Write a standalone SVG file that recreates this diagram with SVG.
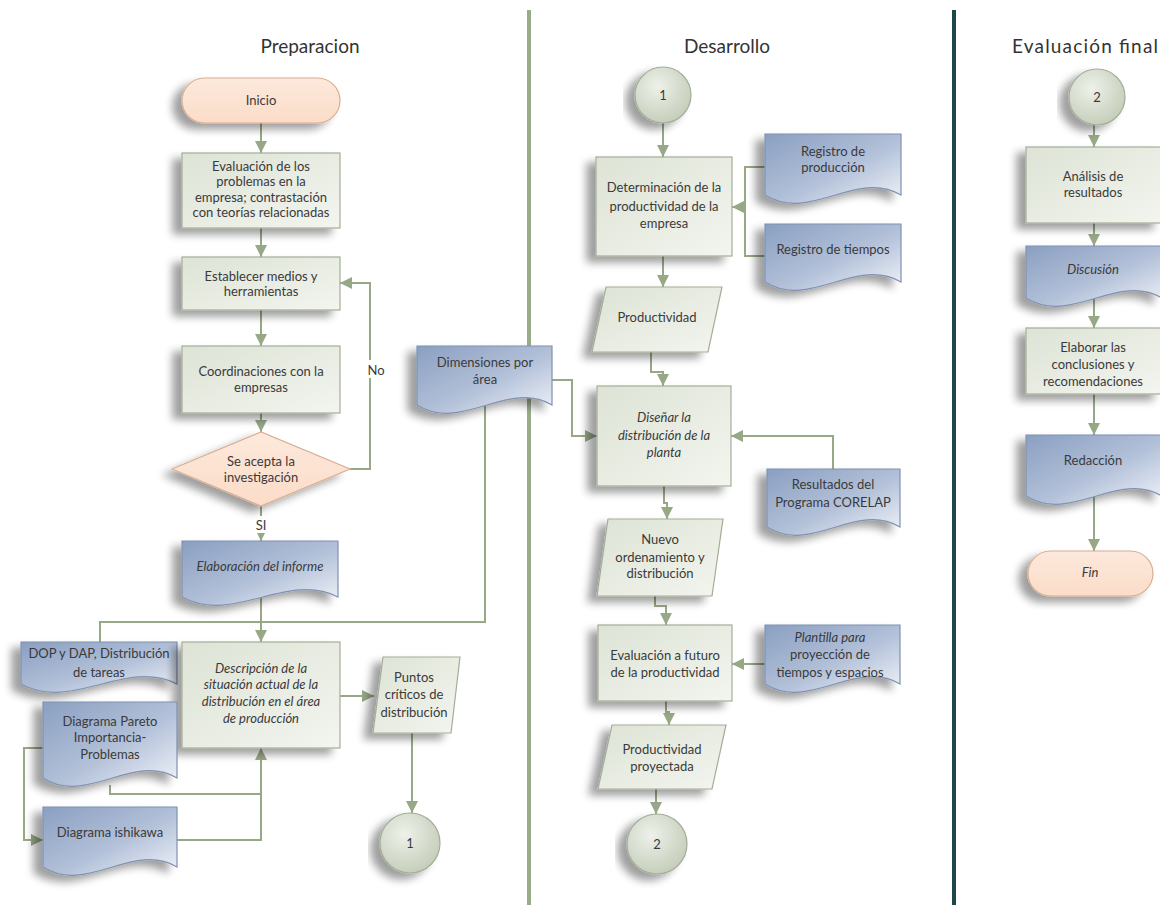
<svg xmlns="http://www.w3.org/2000/svg" width="1160" height="905" viewBox="0 0 1160 905">
<defs>
  <linearGradient id="gProc" x1="0" y1="0" x2="1" y2="1">
    <stop offset="0" stop-color="#dde3d5"/>
    <stop offset="1" stop-color="#f3f5ef"/>
  </linearGradient>
  <linearGradient id="gDoc" x1="0" y1="0" x2="1" y2="1">
    <stop offset="0" stop-color="#8a9fc1"/>
    <stop offset="0.55" stop-color="#b3c1d9"/>
    <stop offset="1" stop-color="#f1f4f9"/>
  </linearGradient>
  <linearGradient id="gTerm" x1="0" y1="0" x2="0" y2="1">
    <stop offset="0" stop-color="#fde9dc"/>
    <stop offset="1" stop-color="#fbdcc8"/>
  </linearGradient>
  <radialGradient id="gCirc" cx="0.4" cy="0.35" r="0.7">
    <stop offset="0" stop-color="#eef1ea"/>
    <stop offset="1" stop-color="#c3ccb8"/>
  </radialGradient>
  <filter id="sh" x="-20%" y="-20%" width="140%" height="150%">
    <feGaussianBlur in="SourceAlpha" stdDeviation="4"/>
    <feOffset dx="-9" dy="6" result="b"/>
    <feComponentTransfer><feFuncA type="linear" slope="0.38"/></feComponentTransfer>
    <feMerge><feMergeNode/><feMergeNode in="SourceGraphic"/></feMerge>
  </filter>
  <marker id="ar" viewBox="0 0 10 10" refX="10" refY="5" markerWidth="12" markerHeight="12" markerUnits="userSpaceOnUse" orient="auto">
    <path d="M0,0 L10,5 L0,10 z" fill="#97a887"/>
  </marker>
  <style>
    .proc{fill:url(#gProc);stroke:#a3ad98;stroke-width:1.2;filter:url(#sh)}
    .doc{fill:url(#gDoc);stroke:#7f92b0;stroke-width:1.2;filter:url(#sh)}
    .term{fill:url(#gTerm);stroke:#d8ae93;stroke-width:1.2;filter:url(#sh)}
    .circ{fill:url(#gCirc);stroke:#a3ad98;stroke-width:1.2;filter:url(#sh)}
    .c{fill:none;stroke:#97a887;stroke-width:2}
    .ca{fill:none;stroke:#97a887;stroke-width:2;marker-end:url(#ar)}
    text{font-family:Lato,"Open Sans","Liberation Sans",sans-serif;font-size:13px;fill:#3a3a3a;text-anchor:middle}
    .it{font-style:italic}
    .title{font-size:19px;fill:#333}
  </style>
</defs>
<rect width="1160" height="905" fill="#fff"/>

<g id="lanes">
  <line x1="529" y1="10" x2="529" y2="905" stroke="#9aab8a" stroke-width="4"/>
  <line x1="954" y1="10" x2="954" y2="905" stroke="#1e4848" stroke-width="4"/>
  <text class="title" x="310" y="53">Preparacion</text>
  <text class="title" x="727" y="53">Desarrollo</text>
  <text class="title" x="1012" y="53" style="text-anchor:start" textLength="146" lengthAdjust="spacing">Evaluación final</text>
</g>

<g id="connectors">
  <path class="ca" d="M261,123 V153"/>
  <path class="ca" d="M261,228 V257"/>
  <path class="ca" d="M261,310 V346"/>
  <path class="ca" d="M261,413 V432"/>
  <path class="ca" d="M350,469 H370 V283 H340"/>
  <path class="ca" d="M261,506 V541"/>
  <path class="ca" d="M261,598 V642"/>
  <path class="c" d="M100,642 V622 H485 V405"/>
  <path class="ca" d="M340,696 H374"/>
  <path class="ca" d="M412,733 V813"/>
  <path class="ca" d="M110,785 V794 H261 V748"/>
  <path class="c" d="M177,840 H261 V794"/>
  <path class="ca" d="M43,748 H24 V840 H43"/>
  <path class="ca" d="M552,380 H572 V436 H597"/>

  <path class="ca" d="M663,123 V157"/>
  <path class="c" d="M765,167 H745 V256 H765"/>
  <path class="ca" d="M745,207 H732"/>
  <path class="ca" d="M663,256 V287"/>
  <path class="ca" d="M651,352 V372 H663 V386"/>
  <path class="ca" d="M833,469 V436 H731"/>
  <path class="ca" d="M664,486 V503 H667 V519"/>
  <path class="ca" d="M655,596 V606 H666 V625"/>
  <path class="ca" d="M765,664 H732"/>
  <path class="ca" d="M666,701 V712 H669 V725"/>
  <path class="ca" d="M656,789 V814"/>

  <path class="ca" d="M1094,125 V147"/>
  <path class="ca" d="M1094,223 V246"/>
  <path class="ca" d="M1094,298 V328"/>
  <path class="ca" d="M1094,394 V435"/>
  <path class="ca" d="M1094,496 V551"/>

  <rect x="365" y="360" width="22" height="18" fill="#fff"/>
  <text x="376" y="375">No</text>
  <rect x="252" y="516" width="18" height="17" fill="#fff"/>
  <text x="261" y="530">SI</text>
</g>

<g id="inicio">
  <rect class="term" x="182" y="78" width="158" height="45" rx="22.5"/>
  <text x="261" y="105">Inicio</text>
</g>
<g id="evaluacion-problemas">
  <rect class="proc" x="182" y="153" width="158" height="75"/>
  <text x="261" y="171">Evaluación de los</text>
  <text x="261" y="186">problemas en la</text>
  <text x="261" y="202">empresa; contrastación</text>
  <text x="261" y="217">con teorías relacionadas</text>
</g>
<g id="establecer">
  <rect class="proc" x="182" y="257" width="158" height="53"/>
  <text x="261" y="281">Establecer medios y</text>
  <text x="261" y="296">herramientas</text>
</g>
<g id="coordinaciones">
  <rect class="proc" x="182" y="346" width="158" height="67"/>
  <text x="261" y="376">Coordinaciones con la</text>
  <text x="261" y="392">empresas</text>
</g>
<g id="decision">
  <polygon class="term" points="172,469 261,432 350,469 261,506"/>
  <text x="261" y="466">Se acepta la</text>
  <text x="261" y="482">investigación</text>
</g>
<g id="elaboracion">
  <path class="doc" d="M182,541 H338 V597 C287,571 233,625 182,597 Z"/>
  <text class="it" x="260" y="571">Elaboración del informe</text>
</g>
<g id="dop">
  <path class="doc" d="M21,642 H177 V684 C126,658 72,712 21,684 Z"/>
  <text x="99" y="658">DOP y DAP, Distribución</text>
  <text x="99" y="677">de tareas</text>
</g>
<g id="descripcion">
  <rect class="proc" x="182" y="642" width="158" height="106"/>
  <text class="it" x="261" y="673">Descripción de la</text>
  <text class="it" x="261" y="689">situación actual de la</text>
  <text class="it" x="261" y="706">distribución en el área</text>
  <text class="it" x="261" y="723">de producción</text>
</g>
<g id="puntos">
  <polygon class="proc" points="383,657 460,657 451,733 373,733"/>
  <text x="414" y="682">Puntos</text>
  <text x="414" y="699">críticos de</text>
  <text x="414" y="717">distribución</text>
</g>
<g id="conector1-prep">
  <circle class="circ" cx="410" cy="843" r="30"/>
  <text x="410" y="848">1</text>
</g>
<g id="pareto">
  <path class="doc" d="M43,702 H177 V778 C133,752 87,806 43,778 Z"/>
  <text x="110" y="726">Diagrama Pareto</text>
  <text x="110" y="742">Importancia-</text>
  <text x="110" y="759">Problemas</text>
</g>
<g id="ishikawa">
  <path class="doc" d="M43,807 H177 V867 C133,841 87,895 43,867 Z"/>
  <text x="110" y="837">Diagrama ishikawa</text>
</g>
<g id="dimensiones">
  <path class="doc" d="M417,346 H552 V405 C508,379 461,433 417,405 Z"/>
  <text x="485" y="367">Dimensiones por</text>
  <text x="485" y="384">área</text>
</g>

<g id="conector1-des">
  <circle class="circ" cx="663" cy="95" r="28"/>
  <text x="663" y="100">1</text>
</g>
<g id="determinacion">
  <rect class="proc" x="596" y="157" width="136" height="99"/>
  <text x="664" y="192">Determinación de la</text>
  <text x="664" y="211">productividad de la</text>
  <text x="664" y="228">empresa</text>
</g>
<g id="registro-produccion">
  <path class="doc" d="M765,134 H901 V195 C856,169 810,223 765,195 Z"/>
  <text x="833" y="156">Registro de</text>
  <text x="833" y="172">producción</text>
</g>
<g id="registro-tiempos">
  <path class="doc" d="M765,224 H901 V282 C856,256 810,310 765,282 Z"/>
  <text x="833" y="254">Registro de tiempos</text>
</g>
<g id="productividad">
  <polygon class="proc" points="606,287 722,287 708,352 592,352"/>
  <text x="657" y="322">Productividad</text>
</g>
<g id="disenar">
  <rect class="proc" x="597" y="386" width="134" height="100"/>
  <text class="it" x="664" y="422">Diseñar la</text>
  <text class="it" x="664" y="440">distribución de la</text>
  <text class="it" x="664" y="457">planta</text>
</g>
<g id="corelap">
  <path class="doc" d="M767,469 H900 V527 C856,501 811,555 767,527 Z"/>
  <text x="833" y="489">Resultados del</text>
  <text x="833" y="507">Programa CORELAP</text>
</g>
<g id="nuevo">
  <polygon class="proc" points="608,519 723,519 712,596 597,596"/>
  <text x="660" y="544">Nuevo</text>
  <text x="660" y="562">ordenamiento y</text>
  <text x="660" y="578">distribución</text>
</g>
<g id="evaluacion-futuro">
  <rect class="proc" x="598" y="625" width="134" height="76"/>
  <text x="665" y="660">Evaluación a futuro</text>
  <text x="665" y="677">de la productividad</text>
</g>
<g id="plantilla">
  <path class="doc" d="M765,625 H900 V684 C856,658 809,712 765,684 Z"/>
  <text class="it" x="830" y="642">Plantilla para</text>
  <text x="830" y="659">proyección de</text>
  <text x="830" y="677">tiempos y espacios</text>
</g>
<g id="productividad-proyectada">
  <polygon class="proc" points="612,725 726,725 712,789 598,789"/>
  <text x="662" y="754">Productividad</text>
  <text x="662" y="771">proyectada</text>
</g>
<g id="conector2-des">
  <circle class="circ" cx="657" cy="844" r="30"/>
  <text x="657" y="849">2</text>
</g>

<g id="conector2-fin">
  <circle class="circ" cx="1097" cy="97" r="28"/>
  <text x="1097" y="102">2</text>
</g>
<g id="analisis">
  <rect class="proc" x="1026" y="147" width="136" height="76"/>
  <text x="1093" y="181">Análisis de</text>
  <text x="1093" y="197">resultados</text>
</g>
<g id="discusion">
  <path class="doc" d="M1026,246 H1162 V298 C1117,272 1071,326 1026,298 Z"/>
  <text class="it" x="1093" y="274">Discusión</text>
</g>
<g id="elaborar">
  <rect class="proc" x="1026" y="328" width="136" height="66"/>
  <text x="1093" y="352">Elaborar las</text>
  <text x="1093" y="369">conclusiones y</text>
  <text x="1093" y="386">recomendaciones</text>
</g>
<g id="redaccion">
  <path class="doc" d="M1026,435 H1162 V496 C1117,470 1071,524 1026,496 Z"/>
  <text x="1093" y="465">Redacción</text>
</g>
<g id="fin">
  <rect class="term" x="1028" y="551" width="125" height="45" rx="22.5"/>
  <text class="it" x="1090" y="577">Fin</text>
</g>
</svg>
